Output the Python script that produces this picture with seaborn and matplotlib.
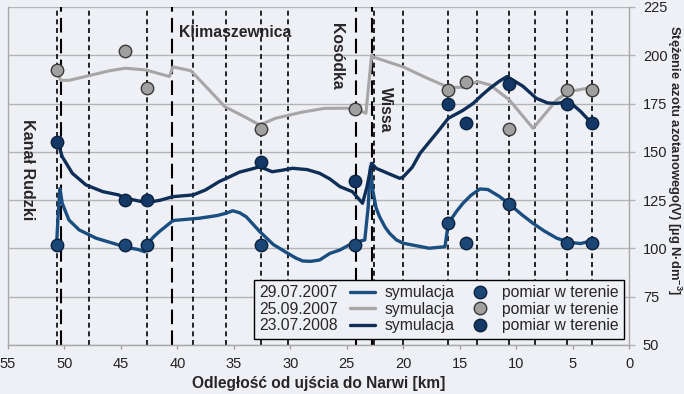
import pandas as pd
import matplotlib.pyplot as plt
import seaborn as sns
from matplotlib.lines import Line2D

# --- dane ---
# symulacja 29.07.2007
sim07_x = [50.7, 50.55, 50.4, 50.2, 49.6, 48.7, 47.2, 45.2, 44.6, 43.5, 42.9, 42.6, 42.1, 41.6,
           40.5, 40.3, 38.1, 36.5, 35.7, 35.1, 34.5, 33.9, 32.7, 31.5, 30.2, 29.5, 28.9, 28.2, 27.4,
           26.5, 25.6, 24.5, 23.4, 23.1, 22.9, 22.7, 22.4, 22.1, 21.6, 21.2, 20.6, 20.0, 18.5, 17.7,
           16.3, 16.0, 15.3, 14.7, 14.0, 13.2, 12.5, 11.5, 10.6, 9.5, 8.5, 7.5, 6.4, 5.3, 4.3, 3.3]
sim07_y = [102, 118, 131, 123.4, 114.7, 109.6, 105.3, 101.8, 100.6, 99.5, 98.3, 102.7, 106, 108.7,
           113.9, 114.5, 115.6, 117, 118.2, 119.5, 118.5, 116.4, 108.7, 102, 97.4, 95, 93.5, 93.3, 94,
           97.4, 99.2, 102.7, 104.4, 121.6, 142.3, 130.3, 121, 116.5, 111, 107.8, 104.4, 102.7, 101, 100.1,
           100.9, 113, 119, 123.4, 127.5, 130.8, 130.5, 127, 123, 117.5, 113, 109, 105.3, 103.2, 102.5, 104]

# symulacja 25.09.2007
sim0709_x = [50.6, 50.3, 49.6, 47.8, 46.0, 44.6, 42.8, 41.0, 40.7, 40.4, 38.8, 37.5, 35.8, 34.0, 32.7,
             31.3, 29.0, 27.0, 25.0, 24.2, 23.3, 22.8, 22.6, 20.0, 18.0, 16.0, 14.7, 13.4, 12.3, 10.6,
             8.5, 6.4, 5.3, 3.3]
sim0709_y = [190, 187, 187, 189.5, 192, 193.3, 192.4, 189.5, 189, 194, 192, 184, 173.4, 168, 163.9,
             167.4, 170.5, 172.5, 172.6, 172, 170, 200, 199, 194, 188.5, 183.4, 183.4, 186.4, 184.6, 176.9,
             162.2, 176.9, 181.2, 183.4]

# symulacja 23.07.2008
sim08_x = [50.7, 50.6, 50.2, 49.3, 48.1, 46.6, 45.2, 44.6, 42.7, 41.5, 40.4, 38.6, 37.5, 36.3, 35.4,
           34.5, 33.5, 32.7, 31.6, 30.7, 29.8, 28.5, 27.4, 26.5, 25.6, 24.5, 23.6, 23.2, 22.8, 22.4,
           21.0, 20.3, 20.0, 19.2, 18.5, 17.0, 16.0, 14.7, 13.8, 13.0, 12.3, 11.5, 10.8, 9.4, 8.2, 7.2,
           6.4, 5.3, 4.3, 3.3]
sim08_y = [155, 155.3, 147.5, 138.9, 132.9, 129.4, 127.7, 126, 123.7, 125, 126.8, 127.7, 130.3, 134.6, 137,
           139.5, 141, 142.3, 139.7, 140.5, 141.5, 140.8, 138.9, 136, 132, 129.4, 123.4, 132, 144.1, 141.5,
           138, 136.3, 137, 142, 149.3, 160, 167.4, 171.5, 175.1, 179.5, 183, 186.5, 189, 184, 177.7, 175.3,
           175.1, 176, 171, 164.8]

# pomiary w terenie
pts_x = [50.7, 44.6, 42.7, 32.6, 24.3, 16.0, 14.4, 10.6, 5.5, 3.3]
pts07_y = [102, 102, 102, 102, 102, 113, 103, 123, 103, 103]
pts0709_y = [192.5, 202, 183, 162, 172, 182, 186, 162, 182, 182]
pts08_y = [155, 125, 125, 145, 135, 175, 165, 185, 175, 165]

# punkty kontrolne i dopływy
short_lines = [50.7, 47.8, 42.7, 38.6, 35.7, 32.6, 30.2, 22.6, 20.0, 16.0, 13.5, 10.6, 8.3, 5.5, 3.3]
long_lines = [50.3, 40.5, 24.2, 22.8]

dates = ['29.07.2007', '25.09.2007', '23.07.2008']
c07, c0709, c08 = '#1a4d80', '#a6a6a6', '#0e2d57'
m07, m0709, m08 = '#1b4675', '#a0a0a0', '#133866'

bg = '#eef0f5'
sns.set_theme(style='white', rc={'axes.facecolor': bg, 'figure.facecolor': bg})
plt.rcParams['font.family'] = ['Liberation Sans', 'DejaVu Sans']
plt.rcParams['mathtext.fontset'] = 'custom'
plt.rcParams['mathtext.bf'] = 'Liberation Sans:bold'
plt.rcParams['mathtext.rm'] = 'Liberation Sans:bold'

fig = plt.figure(figsize=(6.84, 3.94), dpi=100)
ax = fig.add_axes([8 / 684, 1 - 345 / 394, 621 / 684, 338 / 394])

for x in short_lines:
    ax.axvline(x, color='black', lw=1.2, dashes=(3, 2.2), zorder=1)
for x in long_lines:
    ax.axvline(x, color='black', lw=1.5, dashes=(7, 3), zorder=1)

line_kw = dict(sort=False, ax=ax, solid_joinstyle='round', solid_capstyle='round')
sns.lineplot(x=sim0709_x, y=sim0709_y, color=c0709, lw=2.2, zorder=2, **line_kw)
sns.lineplot(x=sim07_x, y=sim07_y, color=c07, lw=2.4, zorder=3, **line_kw)
sns.lineplot(x=sim08_x, y=sim08_y, color=c08, lw=2.4, zorder=3, **line_kw)

sns.scatterplot(x=pts_x, y=pts0709_y, color=m0709, s=80, edgecolor='#3a3a3a', linewidth=1, ax=ax, zorder=4)
sns.scatterplot(x=pts_x, y=pts07_y, color=m07, s=80, edgecolor='#0a2240', linewidth=1, ax=ax, zorder=4)
sns.scatterplot(x=pts_x, y=pts08_y, color=m08, s=80, edgecolor='#0a2240', linewidth=1, ax=ax, zorder=4)

ax.set_xlim(55, 0)
ax.set_ylim(50, 225)
ax.set_xticks(range(55, -1, -5))
ax.set_yticks(range(50, 226, 25))
ax.yaxis.tick_right()
ax.grid(axis='y', color='#b4b4b4', lw=1)
ax.tick_params(axis='y', right=True, length=4, width=1, color='#b4b4b4', pad=6, labelsize=10.5, labelcolor='#222222')
ax.tick_params(axis='x', bottom=True, length=3, width=1, color='#a0a0a0', pad=6, labelsize=10.5, labelcolor='#222222')
for side in ['left', 'right', 'bottom']:
    ax.spines[side].set_color('#a8a8a8')
    ax.spines[side].set_linewidth(1)
ax.spines['top'].set_visible(False)

ax.set_xlabel('Odległość od ujścia do Narwi [km]', fontsize=11.2, fontweight='bold', labelpad=3)
ax.set_ylabel('')
fig.text(0.999, 1 - 160 / 394, 'Stężenie azotu azotanowego(V) [µg N·dm$^{-3}$]',
         rotation=270, ha='right', va='center', fontsize=9.4, fontweight='bold')

# nazwy dopływów
ax.text(53.3, 140.6, 'Kanał Rudzki', rotation=270, ha='center', va='center', fontsize=11.5, fontweight='bold')
ax.text(34.9, 212, 'Klimaszewnica', ha='center', va='center', fontsize=11.3, fontweight='bold')
ax.text(25.9, 199.7, 'Kosódka', rotation=270, ha='center', va='center', fontsize=11.3, fontweight='bold')
ax.text(21.6, 171.7, 'Wissa', rotation=270, ha='center', va='center', fontsize=11.3, fontweight='bold')

# legenda: daty | symulacja | pomiar w terenie
blank = [Line2D([], [], linestyle='none') for _ in dates]
sim_h = [Line2D([], [], color=c, lw=2.4) for c in (c07, c0709, c08)]
pt_h = [Line2D([], [], linestyle='none', marker='o', markersize=9, markerfacecolor=c, markeredgecolor=e)
        for c, e in ((m07, '#0a2240'), (m0709, '#3a3a3a'), (m08, '#0a2240'))]
leg = ax.legend(blank + sim_h + pt_h, dates + ['symulacja'] * 3 + ['pomiar w terenie'] * 3,
                ncol=3, loc='lower right', bbox_to_anchor=(0.992, 0.018), borderaxespad=0,
                fontsize=11.3, handlelength=1.6, handletextpad=0.6, columnspacing=0.8,
                labelspacing=0.1, borderpad=0.35, fancybox=False, framealpha=1,
                facecolor=bg, edgecolor='black')
leg.get_frame().set_linewidth(1)
for row in leg._legend_handle_box.get_children()[0].get_children():
    row.get_children()[0].width = 0
    row.sep = 0

fig.savefig('out.png', dpi=100, facecolor=bg)
